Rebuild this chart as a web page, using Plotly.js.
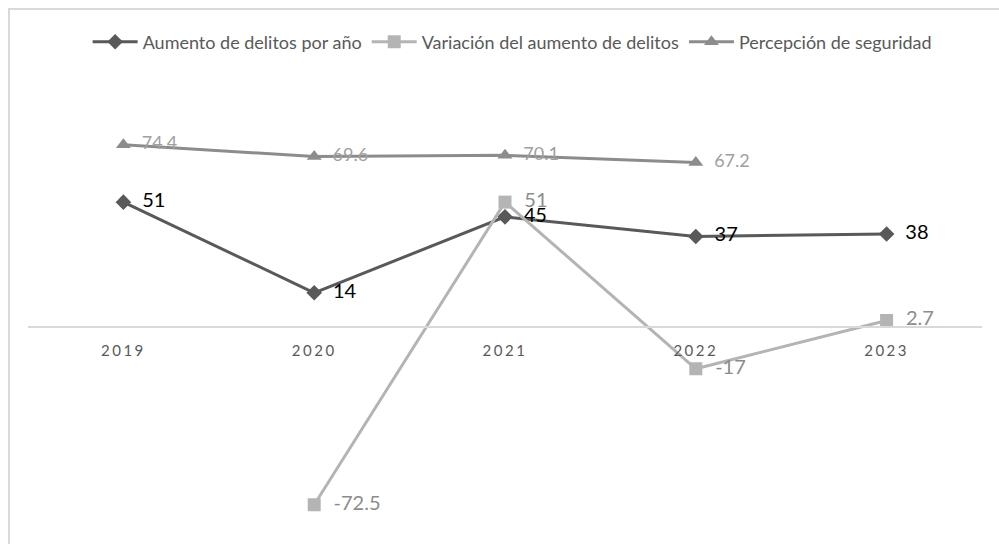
<!DOCTYPE html>
<html>
<head>
<meta charset="utf-8">
<script src="https://cdn.plot.ly/plotly-3.0.1.min.js"></script>
<style>
  html, body { margin: 0; padding: 0; background: #fff; }
  #wrap { position: relative; width: 999px; height: 544px; overflow: hidden; }
  #chart { position: absolute; left: 0; top: 0; width: 999px; height: 544px; }
  #frame { position: absolute; left: 8px; top: 8px; width: 1200px; height: 800px;
           border: 2px solid #d9d9d9; box-sizing: border-box; pointer-events: none; }
  .xtick text { letter-spacing: 2.5px; }
</style>
</head>
<body>
<div id="wrap">
  <div id="chart"></div>
  <div id="frame"></div>
</div>
<script>
const years = ["2019", "2020", "2021", "2022", "2023"];
const aumento = [51, 14, 45, 37, 38];
const variacion = [null, -72.5, 51, -17, 2.7];
const percepcion = [74.4, 69.6, 70.1, 67.2, null];
const seriesNames = ["Aumento de delitos por año", "Variación del aumento de delitos", "Percepción de seguridad"];

const FONT = "Lato, 'Open Sans', sans-serif";
function labels(arr) { return arr.map(v => v === null ? "" : "  " + String(v)); }

const traces = [
  {
    x: years, y: aumento, name: seriesNames[0], type: "scatter", mode: "lines+markers+text",
    line: { color: "#595959", width: 3 },
    marker: { symbol: "diamond", size: 12, color: "#595959" },
    text: labels(aumento), textposition: "middle right",
    textfont: { family: FONT, size: 20, color: "#000000" },
    cliponaxis: false
  },
  {
    x: years, y: variacion, name: seriesNames[1], type: "scatter", mode: "lines+markers+text",
    line: { color: "#b4b4b4", width: 3 },
    marker: { symbol: "square", size: 13, color: "#b4b4b4" },
    text: labels(variacion), textposition: "middle right",
    textfont: { family: FONT, size: 20, color: "#8c8c8c" },
    cliponaxis: false
  },
  {
    x: years, y: percepcion, name: seriesNames[2], type: "scatter", mode: "lines+markers+text",
    line: { color: "#8c8c8c", width: 3 },
    marker: { symbol: "triangle-up", size: 13, color: "#8c8c8c" },
    text: labels(percepcion), textposition: "middle right",
    textfont: { family: FONT, size: 18, color: "#a0a0a0" },
    cliponaxis: false
  }
];

const yMin = -82.8, yMax = 108.8;
const layout = {
  width: 999, height: 544,
  margin: { l: 28, r: 17, t: 60, b: 14 },
  paper_bgcolor: "#ffffff", plot_bgcolor: "#ffffff",
  font: { family: FONT, color: "#595959" },
  showlegend: true,
  legend: {
    orientation: "h", x: 0.508, xanchor: "center", y: 1 - 42 / 544, yanchor: "middle", yref: "container",
    font: { family: FONT, size: 18, color: "#595959" }, itemwidth: 45, traceorder: "normal"
  },
  xaxis: {
    type: "category", showgrid: false, zeroline: false,
    showline: true, linecolor: "#d9d9d9", linewidth: 2,
    anchor: "free", position: (0 - yMin) / (yMax - yMin),
    ticks: "", ticklen: 0, ticklabelstandoff: 10,
    tickfont: { family: FONT, size: 15, color: "#595959" },
    range: [-0.5, 4.5]
  },
  yaxis: {
    range: [yMin, yMax], showgrid: false, zeroline: false, showline: false,
    showticklabels: false, ticks: ""
  }
};

Plotly.newPlot("chart", traces, layout, { displayModeBar: false, staticPlot: true });
</script>
</body>
</html>
